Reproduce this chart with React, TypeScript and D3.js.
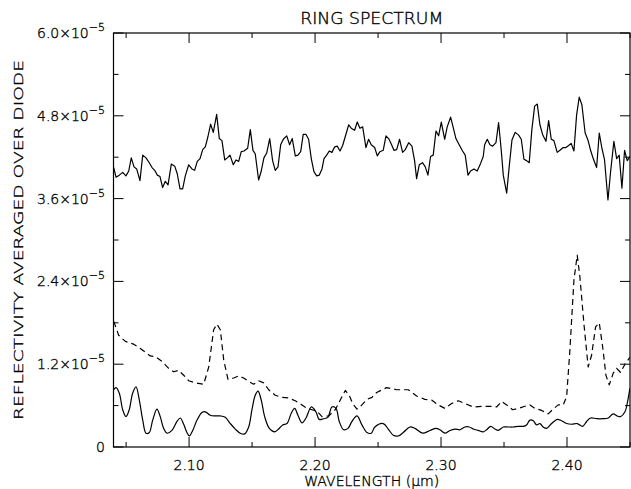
import React from "react";
import * as d3 from "d3";

const UNIT = 1e-5;

const UPPER: [number, number][] = [
  [2.0402,4.05],[2.0420,3.91],[2.0446,3.94],[2.0473,3.98],[2.0499,3.93],[2.0521,4.00],[2.0541,4.19],[2.0563,4.06],[2.0584,4.03],[2.0610,3.86],
  [2.0632,4.23],[2.0658,4.19],[2.0684,4.12],[2.0706,4.05],[2.0727,4.01],[2.0748,3.94],[2.0769,3.92],[2.0790,3.76],[2.0811,3.85],[2.0833,3.80],
  [2.0859,4.10],[2.0886,4.07],[2.0906,3.96],[2.0928,3.74],[2.0949,3.74],[2.0970,3.93],[2.0997,4.09],[2.1023,4.03],[2.1044,4.01],[2.1065,4.14],
  [2.1087,4.18],[2.1108,4.31],[2.1129,4.35],[2.1150,4.50],[2.1171,4.68],[2.1192,4.56],[2.1219,4.82],[2.1240,4.47],[2.1261,4.44],[2.1283,4.16],
  [2.1303,4.19],[2.1325,4.23],[2.1351,4.09],[2.1372,4.16],[2.1394,4.14],[2.1414,4.28],[2.1436,4.29],
  [2.1465,4.33],[2.1486,4.60],[2.1507,4.30],[2.1525,4.25],[2.1552,3.87],[2.1573,4.00],[2.1594,4.19],[2.1616,4.26],[2.1640,4.47],[2.1663,4.15],
  [2.1684,4.01],[2.1706,4.06],[2.1727,4.38],[2.1748,4.46],[2.1775,4.51],[2.1798,4.38],[2.1819,4.47],[2.1843,4.22],[2.1864,4.23],[2.1886,4.28],
  [2.1906,4.53],[2.1928,4.53],[2.1949,4.46],[2.1970,4.18],[2.1991,3.99],[2.2013,3.93],[2.2033,3.94],[2.2055,4.03],[2.2071,4.18],[2.2092,4.23],
  [2.2113,4.29],[2.2134,4.27],[2.2156,4.35],[2.2176,4.36],[2.2198,4.29],[2.2219,4.37],[2.2240,4.50],[2.2267,4.67],[2.2287,4.62],[2.2314,4.59],
  [2.2335,4.71],[2.2356,4.62],[2.2378,4.64],[2.2404,4.34],[2.2425,4.46],[2.2446,4.38],
  [2.2473,4.34],[2.2494,4.22],[2.2515,4.28],[2.2541,4.30],[2.2563,4.51],[2.2584,4.47],[2.2605,4.39],[2.2626,4.30],[2.2648,4.31],[2.2671,4.46],
  [2.2695,4.27],[2.2716,4.31],[2.2743,4.41],[2.2769,4.36],[2.2790,4.15],[2.2806,3.89],[2.2827,4.09],[2.2854,4.12],[2.2875,4.06],[2.2896,3.94],
  [2.2917,4.21],[2.2938,4.23],[2.2960,4.58],[2.2981,4.51],[2.3002,4.71],[2.3029,4.46],[2.3049,4.64],[2.3076,4.78],[2.3097,4.63],[2.3118,4.47],
  [2.3144,4.38],[2.3171,4.29],[2.3192,4.23],[2.3214,3.94],[2.3235,4.00],[2.3261,4.03],[2.3287,4.00],[2.3314,4.11],[2.3335,4.21],[2.3346,4.38],
  [2.3367,4.46],[2.3388,4.38],[2.3410,4.36],[2.3436,4.41],[2.3457,4.70],[2.3478,4.30],[2.3494,3.94],
  [2.3521,3.68],[2.3541,4.06],[2.3563,4.45],[2.3589,4.56],[2.3616,4.52],[2.3637,4.46],[2.3658,4.17],[2.3679,4.15],[2.3700,4.12],[2.3721,4.60],
  [2.3743,4.94],[2.3764,4.97],[2.3785,4.67],[2.3806,4.53],[2.3833,4.43],[2.3854,4.73],[2.3875,4.46],[2.3896,4.44],[2.3922,4.27],[2.3944,4.30],
  [2.3970,4.34],[2.3991,4.34],[2.4013,4.37],[2.4033,4.40],[2.4055,4.29],[2.4076,4.81],[2.4097,5.07],[2.4118,4.96],[2.4144,4.55],[2.4166,4.45],
  [2.4187,4.30],[2.4208,4.18],[2.4235,4.05],[2.4256,4.55],[2.4277,4.33],[2.4298,4.16],[2.4325,3.58],[2.4346,3.99],[2.4372,4.43],[2.4394,4.18],
  [2.4414,4.23],[2.4436,3.75],[2.4457,4.30],[2.4478,4.15],[2.4499,4.21],
];

const DASHED: [number, number][] = [
  [2.0402,1.82],[2.0441,1.62],[2.0494,1.53],[2.0560,1.49],[2.0626,1.41],[2.0692,1.32],[2.0732,1.31],[2.0785,1.24],[2.0838,1.14],[2.0878,1.09],
  [2.0917,1.11],[2.0957,1.04],[2.0997,0.96],[2.1049,0.93],[2.1116,0.91],[2.1156,1.16],[2.1195,1.70],[2.1221,1.78],[2.1248,1.70],[2.1275,1.26],
  [2.1309,0.98],[2.1354,1.00],[2.1394,1.03],[2.1433,1.00],[2.1473,0.95],[2.1513,0.91],[2.1552,0.96],[2.1592,0.93],[2.1632,0.83],[2.1684,0.75],
  [2.1737,0.72],[2.1790,0.71],[2.1843,0.67],[2.1896,0.61],[2.1936,0.56],[2.1975,0.54],[2.2015,0.52],[2.2055,0.44],[2.2108,0.45],[2.2160,0.54],
  [2.2200,0.68],[2.2240,0.82],[2.2271,0.75],[2.2298,0.63],[2.2333,0.55],[2.2372,0.61],[2.2412,0.69],[2.2452,0.72],[2.2489,0.79],[2.2568,0.86],
  [2.2648,0.83],[2.2740,0.83],[2.2806,0.74],[2.2872,0.69],[2.2925,0.68],[2.2978,0.61],[2.3031,0.56],[2.3084,0.63],[2.3137,0.67],[2.3190,0.63],
  [2.3256,0.58],[2.3335,0.59],[2.3388,0.59],[2.3441,0.58],[2.3481,0.66],[2.3521,0.61],[2.3568,0.54],[2.3613,0.56],[2.3666,0.59],[2.3706,0.61],
  [2.3745,0.56],[2.3798,0.53],[2.3851,0.48],[2.3890,0.55],[2.3930,0.61],[2.3970,0.61],[2.3997,0.73],[2.4023,1.41],[2.4055,2.42],[2.4081,2.78],
  [2.4102,2.47],[2.4134,1.79],[2.4168,1.16],[2.4195,1.33],[2.4227,1.74],[2.4256,1.80],[2.4283,1.45],[2.4309,1.04],[2.4335,0.90],[2.4367,1.07],
  [2.4394,1.14],[2.4425,1.08],[2.4460,1.20],[2.4499,1.30],
];

const LOWER: [number, number][] = [
  [2.0402,0.83],[2.0420,0.86],[2.0446,0.78],[2.0473,0.54],[2.0499,0.44],[2.0525,0.54],[2.0552,0.78],[2.0579,0.87],[2.0605,0.68],[2.0632,0.39],
  [2.0658,0.20],[2.0684,0.21],[2.0711,0.39],[2.0745,0.55],[2.0771,0.44],[2.0798,0.27],[2.0825,0.20],[2.0864,0.24],[2.0904,0.37],[2.0930,0.42],
  [2.0957,0.33],[2.0983,0.21],[2.1002,0.16],[2.1029,0.24],[2.1063,0.39],[2.1102,0.50],[2.1129,0.51],[2.1168,0.46],[2.1208,0.45],[2.1248,0.45],
  [2.1287,0.43],[2.1327,0.34],[2.1367,0.26],[2.1406,0.20],[2.1441,0.19],[2.1473,0.29],[2.1499,0.54],[2.1525,0.75],[2.1547,0.81],[2.1573,0.68],
  [2.1600,0.44],[2.1637,0.27],[2.1679,0.22],[2.1711,0.26],[2.1743,0.32],[2.1777,0.34],[2.1811,0.49],[2.1838,0.56],[2.1864,0.46],[2.1896,0.35],
  [2.1928,0.42],[2.1970,0.58],[2.2007,0.51],[2.2033,0.40],[2.2068,0.41],[2.2102,0.43],[2.2134,0.58],[2.2166,0.56],[2.2192,0.37],[2.2227,0.25],
  [2.2261,0.27],[2.2293,0.37],[2.2333,0.45],[2.2372,0.32],[2.2412,0.21],[2.2446,0.20],[2.2475,0.29],[2.2541,0.34],[2.2581,0.26],[2.2621,0.17],
  [2.2660,0.16],[2.2700,0.21],[2.2753,0.29],[2.2793,0.27],[2.2854,0.20],[2.2912,0.24],[2.2960,0.27],[2.2991,0.25],[2.3031,0.20],[2.3071,0.24],
  [2.3110,0.26],[2.3150,0.25],[2.3190,0.29],[2.3224,0.29],[2.3256,0.26],[2.3295,0.24],[2.3335,0.22],[2.3362,0.25],[2.3394,0.30],[2.3428,0.26],
  [2.3454,0.24],[2.3494,0.29],[2.3533,0.29],[2.3573,0.29],[2.3613,0.30],[2.3652,0.30],[2.3679,0.32],[2.3706,0.39],[2.3732,0.38],[2.3759,0.32],
  [2.3785,0.34],[2.3811,0.29],[2.3838,0.27],[2.3878,0.34],[2.3922,0.40],[2.3957,0.38],[2.3997,0.34],[2.4037,0.33],[2.4081,0.34],[2.4124,0.30],
  [2.4156,0.37],[2.4187,0.42],[2.4235,0.41],[2.4287,0.41],[2.4327,0.42],[2.4367,0.48],[2.4398,0.45],[2.4425,0.44],[2.4460,0.51],[2.4486,0.71],
  [2.4499,0.85],
];

const X_MAJOR = [2.1, 2.2, 2.3, 2.4];
const X_MINOR = [2.05, 2.15, 2.25, 2.35, 2.45];
const X_LABELS = ["2.10", "2.20", "2.30", "2.40"];
const Y_MAJOR = [0, 1.2, 2.4, 3.6, 4.8, 6.0];
const Y_MINOR = [0.6, 1.8, 3.0, 4.2, 5.4];
const Y_LABELS = ["0", "1.2", "2.4", "3.6", "4.8", "6.0"];

const TITLE = "RING SPECTRUM";
const X_TITLE = "WAVELENGTH (\u03bcm)";
const Y_TITLE = "REFLECTIVITY AVERAGED OVER DIODE";

const W = 631, H = 489;
const L = 113.5, R = 630, T = 33, B = 447;
const FONT = "'DejaVu Sans', 'Liberation Sans', sans-serif";

export default function App() {
  const x = d3.scaleLinear().domain([2.04, 2.45]).range([L, R]);
  const y = d3.scaleLinear().domain([0, 6 * UNIT]).range([B, T]);
  const lin = d3.line<[number, number]>().x(d => x(d[0])).y(d => y(d[1] * UNIT));
  const smooth = d3.line<[number, number]>().x(d => x(d[0])).y(d => y(d[1] * UNIT)).curve(d3.curveCatmullRom.alpha(0.5));
  const MAJ = 10, MIN = 5;
  return (
    <svg width={W} height={H} style={{ position: "absolute", left: 0, top: 0, background: "#fff" }} fontFamily={FONT} fontWeight={200}>
      <rect x={0} y={0} width={W} height={H} fill="#fff" />
      <defs>
        <clipPath id="pa"><rect x={L} y={T} width={R - L} height={B - T} /></clipPath>
      </defs>
      <g clipPath="url(#pa)" fill="none" stroke="#000" strokeWidth={1.2} strokeLinejoin="round">
        <path d={lin(UPPER) || ""} />
        <path d={lin(DASHED) || ""} strokeDasharray="6,4" />
        <path d={smooth(LOWER) || ""} />
      </g>
      <rect x={L} y={T} width={R - L} height={B - T} fill="none" stroke="#000" strokeWidth={1.2} />
      <g stroke="#000" strokeWidth={1}>
        {X_MAJOR.map((v, i) => (
          <g key={"xm" + i}>
            <line x1={x(v)} x2={x(v)} y1={B} y2={B - MAJ} />
            <line x1={x(v)} x2={x(v)} y1={T} y2={T + MAJ} />
          </g>
        ))}
        {X_MINOR.map((v, i) => (
          <g key={"xn" + i}>
            <line x1={x(v)} x2={x(v)} y1={B} y2={B - MIN} />
            <line x1={x(v)} x2={x(v)} y1={T} y2={T + MIN} />
          </g>
        ))}
        {Y_MAJOR.map((v, i) => (
          <g key={"ym" + i}>
            <line x1={L} x2={L + MAJ} y1={y(v * UNIT)} y2={y(v * UNIT)} />
            <line x1={R} x2={R - MAJ} y1={y(v * UNIT)} y2={y(v * UNIT)} />
          </g>
        ))}
        {Y_MINOR.map((v, i) => (
          <g key={"yn" + i}>
            <line x1={L} x2={L + MIN} y1={y(v * UNIT)} y2={y(v * UNIT)} />
            <line x1={R} x2={R - MIN} y1={y(v * UNIT)} y2={y(v * UNIT)} />
          </g>
        ))}
      </g>
      <g fontSize={14} fill="#000" stroke="#000" strokeWidth={0.35}>
        {X_MAJOR.map((v, i) => (
          <text key={"xl" + i} x={x(v)} y={470} textAnchor="middle">{X_LABELS[i]}</text>
        ))}
        {Y_MAJOR.map((v, i) => (
          <text key={"yl" + i} x={105} y={y(v * UNIT) + 5} textAnchor="end">
            {v === 0 ? "0" : (
              <>
                {Y_LABELS[i] + "\u00d710"}
                <tspan fontSize={11} dy={-7}>{"\u22125"}</tspan>
              </>
            )}
          </text>
        ))}
        <text x={(L + R) / 2} y={24} textAnchor="middle" fontSize={15} textLength={143} lengthAdjust="spacingAndGlyphs">{TITLE}</text>
        <text x={(L + R) / 2} y={486} textAnchor="middle" fontSize={14} textLength={135} lengthAdjust="spacingAndGlyphs">{X_TITLE}</text>
        <text transform={`translate(23, ${(T + B) / 2}) rotate(-90)`} textAnchor="middle" fontSize={13} textLength={360} lengthAdjust="spacingAndGlyphs">{Y_TITLE}</text>
      </g>
    </svg>
  );
}
